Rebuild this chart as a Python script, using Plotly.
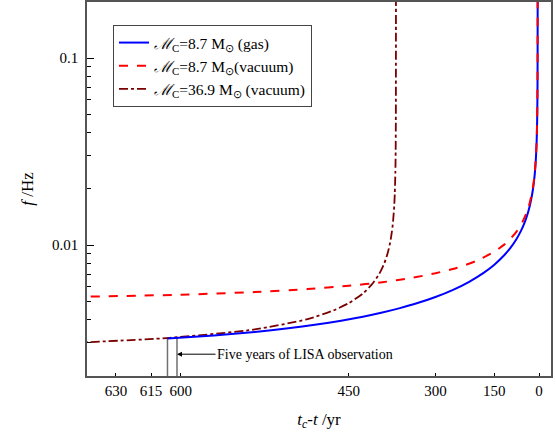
import math
import plotly.graph_objects as go

# ---- data ----
# x axis quantity: t_c - t  [yr]; y: f [Hz]
T_REF = 702.0  # anchor of the (log-type) time axis: u = T_REF - (t_c - t)

t_gas = [607, 580, 550, 520, 490, 460, 430, 400, 370, 340, 300, 260, 220, 180, 150, 120, 100, 80, 65,
         50, 40, 30, 22, 16, 12, 9, 7, 6, 5.5, 5.2, 5.05, 5.03]
f_gas = [0.00317, 0.00329, 0.003435, 0.00359, 0.003759, 0.003942, 0.004141, 0.004359, 0.004601, 0.004868,
         0.00528, 0.005768, 0.006367, 0.007129, 0.007861, 0.008829, 0.009669, 0.010779, 0.011907,
         0.013483, 0.014985, 0.0172, 0.02008, 0.02383, 0.02838, 0.03521, 0.04569, 0.0595, 0.0773,
         0.109, 0.183, 0.222]

t_vac = [645, 600, 550, 500, 450, 400, 350, 300, 250, 200, 150, 120, 100, 80, 60, 45, 35, 25, 18, 12,
         9, 7, 6, 5.5, 5.2, 5.05, 5.03]
f_vac = [0.00528, 0.00543, 0.00561, 0.00582, 0.00606, 0.00633, 0.00666, 0.00707, 0.00757, 0.00825,
         0.00922, 0.01006, 0.01081, 0.01180, 0.01327, 0.01494, 0.01665, 0.01938, 0.02276, 0.02870,
         0.03550, 0.04590, 0.05960, 0.07730, 0.10900, 0.18300, 0.22200]

t_big = [645, 606, 550, 500, 470, 450, 430, 415, 405, 397, 391, 387, 384, 382, 380, 379, 378, 377.5,
         377.2, 377.1, 377.03, 377.01, 377.003]
f_big = [0.00300, 0.00319, 0.00354, 0.00402, 0.00447, 0.00489, 0.00551, 0.00625, 0.00701, 0.00795,
         0.00909, 0.01031, 0.01179, 0.01337, 0.01620, 0.01888, 0.02440, 0.03170, 0.04490, 0.05800,
         0.09100, 0.13700, 0.21600]

lisa_start, lisa_end = 607, 602
lisa_f = [0.00317, 0.00320]
f_floor = 0.0019
arrow_f = 0.00261

x_ticks = [630, 615, 600, 450, 300, 150, 0]
y_ticks = [0.01, 0.1]
y_minor = [0.002, 0.003, 0.004, 0.005, 0.006, 0.007, 0.008, 0.009,
           0.02, 0.03, 0.04, 0.05, 0.06, 0.07, 0.08, 0.09, 0.2]

names = ["<i>ℳ</i><sub>C</sub>=8.7 M<sub>⊙</sub> (gas)",
         "<i>ℳ</i><sub>C</sub>=8.7 M<sub>⊙</sub>(vacuum)",
         "<i>ℳ</i><sub>C</sub>=36.9 M<sub>⊙</sub> (vacuum)"]


def u(ts):
    return [T_REF - t for t in ts]


FONT = "Liberation Serif"
fig = go.Figure()

# LISA observation markers
for t0, fy in zip([lisa_start, lisa_end], lisa_f):
    fig.add_trace(go.Scatter(x=u([t0, t0]), y=[f_floor, fy], mode="lines",
                             line=dict(color="#707070", width=1.5), showlegend=False, hoverinfo="skip"))

fig.add_trace(go.Scatter(x=u(t_big), y=f_big, mode="lines", name=names[2],
                         line=dict(color="#7a0000", width=1.8, dash="dashdot", shape="spline", smoothing=0.6)))
fig.add_trace(go.Scatter(x=u(t_gas), y=f_gas, mode="lines", name=names[0],
                         line=dict(color="#0000ff", width=2, shape="spline", smoothing=0.6)))
fig.add_trace(go.Scatter(x=u(t_vac), y=f_vac, mode="lines", name=names[1],
                         line=dict(color="#ff0000", width=2, dash="dash", shape="spline", smoothing=0.6)))

# annotation coordinates on log axes are given in log10 units
fig.add_annotation(x=math.log10(u([lisa_end])[0]), y=math.log10(arrow_f), xref="x", yref="y",
                   text="Five years of LISA observation", showarrow=True,
                   ax=128, ay=0, arrowhead=2, arrowsize=1, arrowwidth=1, arrowcolor="black",
                   font=dict(family=FONT, size=14, color="black"))

axis_common = dict(showline=True, linecolor="#555555", linewidth=1.5, mirror=True,
                   showgrid=False, zeroline=False, ticks="inside", tickcolor="black",
                   automargin=False,
                   tickfont=dict(family=FONT, size=15, color="black"))

fig.update_xaxes(type="log", range=[1.7896, 2.8744],
                 tickmode="array", tickvals=u(x_ticks), ticktext=[str(v) for v in x_ticks],
                 ticklen=3, tickwidth=1,
                 title=dict(text="<i>t</i><sub><i>c</i></sub>-<i>t</i> /yr",
                            font=dict(family=FONT, size=17, color="black"), standoff=15),
                 **axis_common)
fig.update_yaxes(type="log", range=[-2.7, -0.7],
                 tickmode="array", tickvals=y_ticks, ticktext=["0.01", "0.1"],
                 ticklen=7, tickwidth=1, ticklabelstandoff=4,
                 minor=dict(tickmode="array", tickvals=y_minor, ticks="inside", ticklen=4,
                            tickcolor="black", tickwidth=1),
                 title=dict(text="<i>f</i> /Hz", font=dict(family=FONT, size=17, color="black"), standoff=14),
                 **axis_common)

fig.update_layout(
    width=556, height=432,
    margin=dict(l=87, r=5, t=2, b=56, autoexpand=False),
    paper_bgcolor="white", plot_bgcolor="white",
    font=dict(family=FONT, color="black"),
    legend=dict(x=0.056, y=0.9385, xanchor="left", yanchor="top",
                bgcolor="white", bordercolor="#444444", borderwidth=1,
                font=dict(family=FONT, size=15.5, color="black"),
                traceorder="normal", tracegroupgap=0),
)
# legend order: gas, vacuum 8.7, vacuum 36.9
fig.data[3].legendrank = 1
fig.data[4].legendrank = 2
fig.data[2].legendrank = 3

fig.write_html("out.html", config={"displayModeBar": False},
               post_script="document.body.style.margin='0px';")
